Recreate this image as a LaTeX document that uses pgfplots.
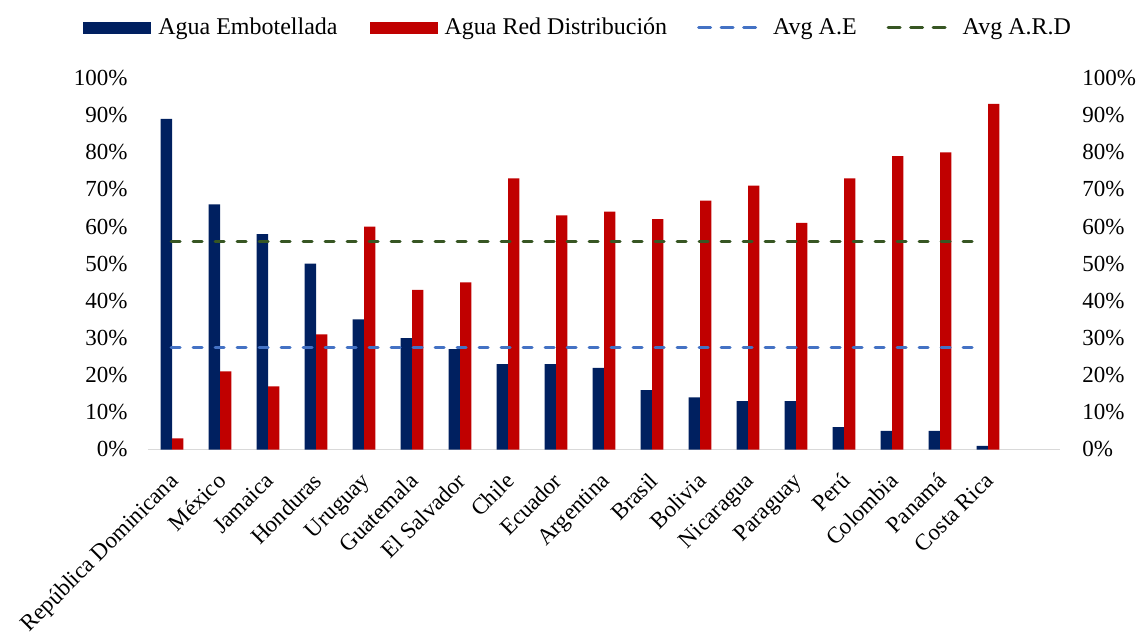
\documentclass[border=0pt]{standalone}
\usepackage{pgfplots}
\pgfplotsset{compat=1.18}
\usepackage{fontspec}
\setmainfont{Liberation Serif}

\definecolor{aeblue}{HTML}{002060}
\definecolor{ardred}{HTML}{C00000}
\definecolor{avgblue}{HTML}{4472C4}
\definecolor{avggreen}{HTML}{375623}
\definecolor{axisgray}{HTML}{D9D9D9}

\pgfplotsset{
  pctaxis/.style={
    at={(74pt,90.75pt)}, anchor=south west,
    scale only axis, width=456pt, height=185.75pt,
    xmin=-0.5, xmax=18.5, ymin=0, ymax=100,
    ytick={0,10,...,100},
    yticklabels={0\%,10\%,20\%,30\%,40\%,50\%,60\%,70\%,80\%,90\%,100\%},
    major tick length=0pt,
    y axis line style={draw=none},
  },
}

\begin{document}
\begin{tikzpicture}[font=\fontsize{11.5}{13.5}\selectfont]
\useasboundingbox (0,0) rectangle (569pt,315.5pt);

% main axis: bars, averages, left percent scale
\begin{axis}[
  pctaxis,
  axis lines*=left,
  x axis line style={-, draw=axisgray, line width=0.75pt},
  ybar=0pt, bar width=5.65pt,
  xtick={0,...,17},
  xticklabels={República Dominicana, México, Jamaica, Honduras, Uruguay,
    Guatemala, El Salvador, Chile, Ecuador, Argentina, Brasil, Bolivia,
    Nicaragua, Paraguay, Perú, Colombia, Panamá, Costa Rica},
  xticklabel style={xshift=-2pt, yshift=-10.7pt, rotate=45, anchor=north east, inner sep=0pt},
  yticklabel style={anchor=east, inner sep=0pt, xshift=-10pt},
  legend columns=4,
  legend style={draw=none, fill=none, at={(0.4727,1.1346)}, anchor=center,
    font=\fontsize{12}{14}\selectfont,
    /tikz/column 1/.style={column sep=1.5pt},
    /tikz/column 2/.style={column sep=14pt},
    /tikz/column 3/.style={column sep=1.5pt},
    /tikz/column 4/.style={column sep=13pt},
    /tikz/column 5/.style={column sep=6pt},
    /tikz/column 6/.style={column sep=13pt},
    /tikz/column 7/.style={column sep=6pt},
    legend cell align=left},
]
\addplot[fill=aeblue, draw=none,
  legend image code/.code={\fill[aeblue] (0pt,-3pt) rectangle (34pt,3pt);}]
  coordinates {(0,89) (1,66) (2,58) (3,50) (4,35) (5,30) (6,27) (7,23) (8,23)
    (9,22) (10,16) (11,14) (12,13) (13,13) (14,6) (15,5) (16,5) (17,1)};
\addlegendentry{Agua Embotellada}
\addplot[fill=ardred, draw=none,
  legend image code/.code={\fill[ardred] (0pt,-3pt) rectangle (34pt,3pt);}]
  coordinates {(0,3) (1,21) (2,17) (3,31) (4,60) (5,43) (6,45) (7,73) (8,63)
    (9,64) (10,62) (11,67) (12,71) (13,61) (14,73) (15,79) (16,80) (17,93)};
\addlegendentry{Agua Red Distribución}
\addplot[sharp plot, avgblue, line width=1.5pt, line cap=round,
  dash pattern=on 4.5pt off 6.5pt,
  legend image code/.code={\draw[avgblue, line width=1.5pt, line cap=round,
    dash pattern=on 6pt off 5.25pt] (0.75pt,0pt) -- (29.25pt,0pt);}]
  coordinates {(-0.02,27.56) (16.77,27.56)};
\addlegendentry{Avg A.E}
\addplot[sharp plot, avggreen, line width=1.5pt, line cap=round,
  dash pattern=on 4.5pt off 6.5pt,
  legend image code/.code={\draw[avggreen, line width=1.5pt, line cap=round,
    dash pattern=on 6pt off 5.25pt] (0.75pt,0pt) -- (29.25pt,0pt);}]
  coordinates {(-0.02,55.89) (16.77,55.89)};
\addlegendentry{Avg A.R.D}
\end{axis}

% right-hand percent scale
\begin{axis}[
  pctaxis,
  hide x axis,
  axis y line*=right,
  yticklabel style={anchor=west, inner sep=0pt, xshift=11pt},
]
\end{axis}
\end{tikzpicture}
\end{document}
